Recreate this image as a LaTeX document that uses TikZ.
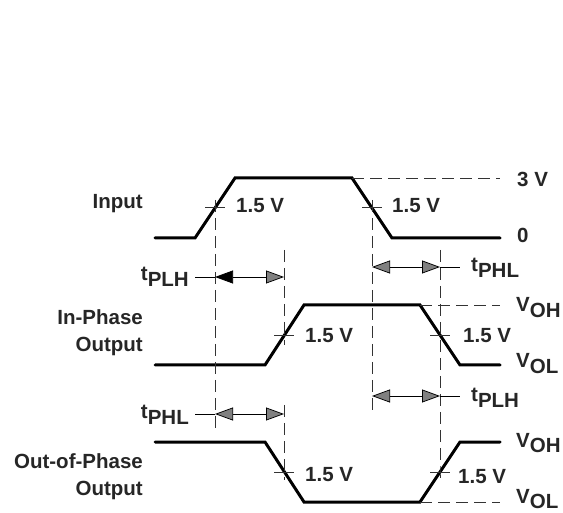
\documentclass[tikz,border=0pt]{standalone}
\usepackage{fontspec}
\setmainfont{Liberation Sans}
\usetikzlibrary{arrows.meta}
\tikzset{
	>=latex,
}

\begin{document}
\begin{tikzpicture}[
		x=1pt,y=-1pt,
		signal/.style={line width=3pt,line cap=round,line join=miter},
		guide/.style={dash pattern=on 12pt off 6pt,line width=0.75pt,black!80},
		tick/.style={line width=0.75pt,black!80},
		lbl/.style={font=\fontsize{20.5}{27}\selectfont\bfseries,text=black!85,inner sep=0pt},
		dim/.style={line width=0.75pt,{Triangle[length=18pt,width=13pt,fill=black!50]}-{Triangle[length=18pt,width=13pt,fill=black!50]}},
		dimb/.style={line width=0.75pt,{Triangle[length=18pt,width=13pt,fill=black]}-{Triangle[length=18pt,width=13pt,fill=black!50]}},
	]
	\def\sb#1#2{#1\raisebox{-5.5pt}{#2}}
	\useasboundingbox (0,0) rectangle (563,513);

	% crossing points at 1.5 V
	\coordinate (inR) at (215,207);
	\coordinate (inF) at (372,207);
	\coordinate (ipR) at (284,335);
	\coordinate (ipF) at (440,335);
	\coordinate (opF) at (284,472);
	\coordinate (opR) at (440,472);

	% waveforms
	\draw[signal] (155,238) -- (195,238) -- (235,178) -- (352,178) -- (392,238) -- (500,238);
	\draw[signal] (155,365) -- (265,365) -- (304,305) -- (420,305) -- (460,365) -- (500,365);
	\draw[signal] (155,442) -- (265,442) -- (304,502) -- (420,502) -- (460,442) -- (500,442);

	% reference levels
	\coordinate (top) at (352,178);
	\coordinate (ohA) at (420,305);
	\coordinate (olB) at (420,502);
	\draw[guide] (top) -- ++(148,0);
	\draw[guide] (ohA) -- ++(80,0);
	\draw[guide] (olB) -- ++(80,0);

	% timing guides
	\draw[guide] (215,200) -- (215,430);
	\draw[guide] (372,200) -- (372,415);
	\draw[guide] (284,250) -- (ipR) -- ++(0,10);
	\draw[guide] (284,405) -- (opF) -- ++(0,8);
	\draw[guide] (440,250) -- (opR) -- ++(0,8);

	\foreach \c in {inR,inF,ipR,ipF,opF,opR}
		\draw[tick] ([xshift=-10pt]\c) -- ([xshift=10pt]\c);

	% delay arrows
	\coordinate (plhA) at (215,277);
	\coordinate (plhB) at (284,277);
	\coordinate (phlA) at (372,267);
	\coordinate (phlB) at (440,267);
	\coordinate (plhC) at (372,396);
	\coordinate (plhD) at (440,396);
	\coordinate (phlC) at (215,414);
	\coordinate (phlD) at (284,414);
	\draw[dimb] (plhA) -- (plhB);
	\draw[dim] (phlA) -- (phlB);
	\draw[dim] (plhC) -- (plhD);
	\draw[dim] (phlC) -- (phlD);
	\draw[tick,black] (plhA) -- ++(-20,0);
	\draw[tick,black] (phlC) -- ++(-20,0);
	\draw[tick,black] (phlB) -- ++(20,0);
	\draw[tick,black] (plhD) -- ++(20,0);

	% labels
	\node(input)[lbl,anchor=base east] at (143,209) {Input};
	\node(inph)[lbl,anchor=base east] at (143,325) {In-Phase};
	\node(inout)[lbl,anchor=base east] at (143,352) {Output};
	\node(outph)[lbl,anchor=base east] at (143,468) {Out-of-Phase};
	\node(outout)[lbl,anchor=base east] at (143,495) {Output};
	\node(v3)[lbl,anchor=base west] at (517,187) {3 V};
	\node(v0)[lbl,anchor=base west] at (517,243) {0};
	\node(vohA)[lbl,anchor=base west] at (516,312) {\sb{V}{OH}};
	\node(volA)[lbl,anchor=base west] at (516,368) {\sb{V}{OL}};
	\node(vohB)[lbl,anchor=base west] at (516,447) {\sb{V}{OH}};
	\node(volB)[lbl,anchor=base west] at (516,503) {\sb{V}{OL}};
	\node(tplhA)[lbl,anchor=base east] at (189,281) {\sb{t}{PLH}};
	\node(tphlA)[lbl,anchor=base west] at (471,272) {\sb{t}{PHL}};
	\node(tplhB)[lbl,anchor=base west] at (471,402) {\sb{t}{PLH}};
	\node(tphlB)[lbl,anchor=base east] at (189,419) {\sb{t}{PHL}};
	\node(vinR)[lbl,anchor=base west] at (236,213) {1.5 V};
	\node(vinF)[lbl,anchor=base west] at (392,213) {1.5 V};
	\node(vipR)[lbl,anchor=base west] at (305,343) {1.5 V};
	\node(vipF)[lbl,anchor=base west] at (463,343) {1.5 V};
	\node(vopF)[lbl,anchor=base west] at (305,482) {1.5 V};
	\node(vopR)[lbl,anchor=base west] at (458,483) {1.5 V};
\end{tikzpicture}
\end{document}
